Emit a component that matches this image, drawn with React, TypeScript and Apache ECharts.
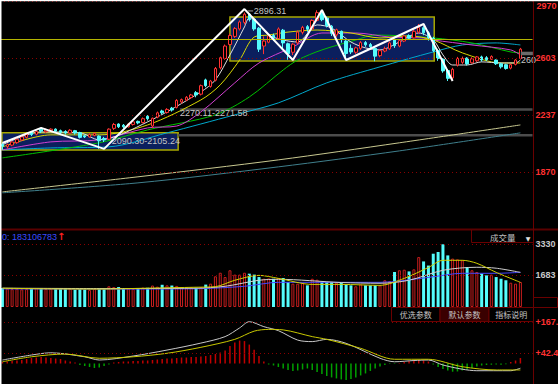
import React, { useEffect, useRef } from "react";
import * as echarts from "echarts";

const W = 558;
const H = 384;
const SLOT_COUNT = 110;
const CATEGORIES = Array.from({ length: SLOT_COUNT }, (_, i) => String(i + 1));

// [open, close, low, high]
const CANDLES: number[][] = [
  [2048, 2035, 2012, 2055], [2032, 2045, 2020, 2052], [2042, 2062, 2035, 2068], [2058, 2080, 2050, 2088],
  [2075, 2095, 2068, 2102], [2092, 2112, 2085, 2120], [2125, 2110, 2100, 2132], [2112, 2130, 2105, 2138],
  [2145, 2132, 2120, 2153], [2128, 2140, 2120, 2148], [2135, 2145, 2128, 2150], [2145, 2132, 2125, 2150],
  [2135, 2125, 2115, 2142], [2130, 2120, 2110, 2138], [2120, 2138, 2115, 2145], [2135, 2120, 2110, 2140],
  [2122, 2092, 2085, 2128], [2102, 2095, 2088, 2110], [2095, 2110, 2090, 2118], [2105, 2118, 2098, 2122],
  [2100, 2070, 2018, 2105], [2085, 2075, 2062, 2095], [2080, 2145, 2075, 2150], [2150, 2175, 2140, 2185],
  [2178, 2160, 2152, 2182], [2170, 2160, 2150, 2178], [2160, 2178, 2155, 2185], [2175, 2192, 2168, 2198],
  [2195, 2185, 2176, 2200], [2188, 2212, 2182, 2220], [2228, 2212, 2200, 2235], [2165, 2215, 2152, 2220],
  [2222, 2250, 2215, 2258], [2262, 2250, 2240, 2270], [2252, 2272, 2245, 2280], [2280, 2268, 2258, 2288],
  [2285, 2330, 2278, 2338], [2320, 2335, 2310, 2342], [2332, 2350, 2325, 2358], [2348, 2365, 2340, 2372],
  [2380, 2365, 2350, 2390], [2370, 2425, 2362, 2432], [2462, 2425, 2415, 2470], [2420, 2455, 2412, 2462],
  [2460, 2535, 2452, 2545], [2540, 2605, 2530, 2612], [2600, 2680, 2592, 2690], [2690, 2748, 2682, 2760],
  [2742, 2792, 2732, 2802], [2790, 2835, 2780, 2845], [2832, 2885, 2818, 2896.31], [2885, 2850, 2838, 2892],
  [2852, 2790, 2778, 2860], [2795, 2660, 2642, 2802], [2680, 2712, 2628, 2742], [2705, 2745, 2698, 2755],
  [2748, 2730, 2715, 2760], [2728, 2790, 2722, 2800], [2782, 2700, 2665, 2790], [2695, 2632, 2592, 2702],
  [2640, 2692, 2622, 2700], [2700, 2770, 2690, 2780], [2768, 2800, 2755, 2810], [2805, 2788, 2772, 2815],
  [2790, 2845, 2785, 2852], [2845, 2895, 2838, 2910], [2895, 2850, 2840, 2905], [2860, 2812, 2800, 2870],
  [2808, 2762, 2745, 2815], [2752, 2785, 2740, 2792], [2775, 2722, 2702, 2780], [2712, 2632, 2592, 2718],
  [2665, 2642, 2628, 2690], [2640, 2668, 2630, 2676], [2665, 2702, 2655, 2712], [2702, 2688, 2675, 2712],
  [2690, 2675, 2660, 2700], [2665, 2615, 2582, 2668], [2618, 2650, 2608, 2660], [2648, 2662, 2640, 2676],
  [2662, 2700, 2655, 2710], [2722, 2682, 2668, 2728], [2680, 2715, 2672, 2722], [2712, 2745, 2705, 2752],
  [2748, 2730, 2720, 2756], [2732, 2775, 2728, 2785], [2770, 2800, 2760, 2822], [2798, 2765, 2750, 2808],
  [2765, 2735, 2715, 2775], [2730, 2650, 2640, 2740], [2650, 2600, 2585, 2662], [2596, 2520, 2508, 2602],
  [2522, 2472, 2455, 2532], [2475, 2530, 2465, 2540], [2558, 2600, 2548, 2610], [2575, 2600, 2565, 2612],
  [2602, 2565, 2555, 2608], [2572, 2598, 2568, 2608], [2585, 2610, 2578, 2616], [2610, 2590, 2580, 2618],
  [2605, 2592, 2584, 2615], [2595, 2612, 2590, 2620], [2590, 2566, 2558, 2594], [2566, 2546, 2535, 2572],
  [2560, 2535, 2528, 2566], [2538, 2560, 2530, 2566], [2562, 2590, 2555, 2596], [2600, 2660, 2594, 2668],
];

// moving averages, read as [candle index, value]
const MA5 = [[0, 2044], [8, 2127], [16, 2121], [20, 2076], [30, 2192], [41, 2385], [44, 2462], [47, 2623], [50, 2803], [51, 2861], [53, 2816], [55, 2751], [58, 2719], [61, 2706], [65, 2816], [68, 2796], [72, 2706], [75, 2668], [78, 2655], [82, 2706], [86, 2764], [89, 2719], [91, 2623], [93, 2558], [96, 2558], [99, 2578], [103, 2571], [106, 2571], [107, 2590]];
const MA10 = [[0, 2031], [10, 2108], [20, 2108], [30, 2172], [41, 2333], [45, 2430], [49, 2590], [52, 2738], [55, 2751], [59, 2770], [65, 2783], [72, 2764], [78, 2732], [84, 2745], [89, 2719], [95, 2636], [103, 2571], [107, 2571]];
const MA20 = [[0, 2011], [10, 2063], [20, 2076], [30, 2153], [36, 2165], [41, 2256], [48, 2443], [53, 2571], [60, 2674], [66, 2764], [73, 2764], [80, 2738], [87, 2732], [89, 2719], [97, 2687], [105, 2655], [107, 2623]];
const MA30 = [[0, 1960], [20, 2057], [30, 2140], [44, 2237], [51, 2352], [58, 2526], [61, 2590], [66, 2655], [73, 2719], [77, 2751], [89, 2732], [97, 2700], [105, 2642], [107, 2636]];
const MA60 = [[0, 2011], [10, 2024], [22, 2031], [34, 2121], [48, 2237], [57, 2314], [67, 2443], [78, 2546], [89, 2642], [95, 2687], [102, 2700], [107, 2687]];
const MA120 = [[0, 1741], [28, 1838], [57, 1947], [82, 2057], [107, 2172]];
const MA250 = [[0, 1735], [28, 1799], [57, 1902], [82, 2005], [107, 2121]];

const ZIGZAG = [[0, 2056], [8, 2153], [21, 2018], [50, 2918], [60, 2590], [66, 2912], [71, 2590], [87, 2822], [93, 2455]];

const VOLUMES = [
  1010, 980, 950, 970, 940, 960, 1010, 1000, 990, 960,
  960, 1010, 1000, 1000, 960, 920, 950, 930, 900, 970,
  990, 950, 1100, 1060, 1060, 980, 990, 960, 990, 1030,
  1020, 1140, 1080, 1180, 1150, 1140, 1120, 1060, 1060, 1050,
  1020, 1060, 1190, 1240, 1630, 1820, 1590, 1950, 1720, 1720,
  1820, 1770, 1720, 1590, 1500, 1520, 1500, 1540, 1540, 1330,
  1240, 1240, 1290, 1150, 1500, 1450, 1330, 1330, 1330, 1290,
  1290, 1190, 1150, 1100, 1200, 1150, 1150, 1150, 1150, 1420,
  1370, 1860, 1950, 1980, 1890, 2000, 2650, 2420, 2200, 2830,
  2920, 3330, 2740, 2570, 2530, 2480, 2120, 1950, 1860, 1770,
  1680, 1720, 1590, 1500, 1420, 1290, 1240, 1330,
];
const VOL_MA_A = [[0, 1000], [10, 960], [20, 950], [30, 1000], [40, 1050], [44, 1080], [48, 1420], [53, 1680], [57, 1520], [64, 1200], [70, 1200], [78, 1150], [83, 1520], [88, 2100], [91, 2480], [95, 2480], [98, 2320], [102, 1840], [107, 1310]];
const VOL_MA_B = [[0, 1000], [20, 980], [40, 1000], [46, 1100], [53, 1420], [57, 1470], [70, 1300], [78, 1260], [84, 1420], [91, 1950], [98, 2110], [102, 2060], [107, 1840]];
const VOL_MA_C = [[0, 960], [20, 950], [40, 970], [50, 1100], [57, 1310], [78, 1310], [88, 1570], [95, 1790], [102, 1790], [107, 1840]];

const MACD_HIST = [
  6, 8, 10, 12, 14, 18, 22, 24, 26, 24,
  22, 20, 18, 12, 8, 4, -6, -10, -14, -18,
  -16, -10, -4, 4, 6, 8, 8, 10, 10, 12,
  12, 14, 16, 18, 20, 20, 22, 24, 24, 26,
  26, 28, 30, 34, 38, 44, 52, 70, 84, 92,
  90, 76, 55, 30, 8, -4, -8, -14, -20, -26,
  -30, -28, -24, -20, -26, -34, -42, -50, -56, -60,
  -64, -66, -62, -56, -48, -40, -30, -20, -12, -6,
  -2, -2, 2, 6, 10, 14, 14, 12, 8, -4,
  -14, -22, -28, -33, -32, -28, -24, -18, -12, -8,
  -6, -5, -4, -5, -3, 6, 12, 22,
];
const DIF = [[0, 14], [6, 34], [10, 43], [17, 27], [20, 14], [27, 30], [34, 54], [41, 82], [46, 108], [49, 143], [51, 168], [54, 148], [57, 132], [61, 94], [64, 88], [67, 97], [71, 81], [78, 21], [81, 7], [85, 12], [88, 14], [91, -6], [95, -23], [98, -29], [105, -29], [107, -19]];
const DEA = [[0, 7], [6, 27], [13, 38], [20, 21], [27, 27], [34, 41], [41, 65], [48, 97], [52, 130], [55, 137], [58, 135], [64, 108], [67, 97], [74, 61], [81, 17], [88, 17], [95, -13], [102, -26], [107, -26]];

const PRICE_MIN = 1502;
const PRICE_MAX = 2970;
const PRICE_TICKS = [2603, 2237, 1870];
const PRICE_TICK_LABELS = ["2603", "2237", "1870"];
const PRICE_TOP_LABEL = "2970";
const RESIST_LEVEL = 2724;
const VOL_MAX = 4089;
const VOL_TICKS = [3330, 1683];
const VOL_TICK_LABELS = ["3330", "1683"];
const MACD_MIN = -82.4;
const MACD_MAX = 223;
const MACD_TICKS = [167, 42.4];
const MACD_TICK_LABELS = ["+167.", "+42.4"];

// boxes: [startIndex, endIndex, low, high]
const BOXES = [[-0.1, 36.3, 2011, 2121], [47, 89.2, 2584, 2867]];
// range lines: [startIndex, level]
const RANGE_LINES = [[36.7, 2271], [36.3, 2105]];
// annotations: [text, index, value]
const ANNOTATIONS: [string, number, number][] = [
  ["2896.31", 51.9, 2906],
  ["2090.30-2105.24", 22.6, 2068],
  ["2270.11-2271.58", 36.7, 2249],
];
const LAST_PRICE_TEXT = "260";
const VOL_TITLE = "0: 183106783";

const NUM_FONT = '"Liberation Sans", Arial, sans-serif';
const CJK_FONT = '"Noto Sans CJK SC", sans-serif';

const RED = "#ff3232";
const CYAN = "#54fcfc";
const DARK_RED = "#6a0000";

function lineSeries(data: number[][], color: string, axis: number, z = 3, width = 1) {
  return {
    type: "line",
    xAxisIndex: axis,
    yAxisIndex: axis,
    data,
    symbol: "none",
    smooth: 0.3,
    silent: true,
    z,
    lineStyle: { color, width },
  };
}

function tickMarkLine(values: number[], labels: string[], color: string, extra: any[] = []) {
  return {
    symbol: ["none", "none"],
    silent: true,
    animation: false,
    lineStyle: { color: "#8a0000", type: [1, 3], width: 1 },
    label: {
      position: "end",
      color,
      fontSize: 9,
      fontWeight: "bold",
      fontFamily: NUM_FONT,
      distance: 3,
      formatter: "{b}",
    },
    data: values.map((v, i) => ({ yAxis: v, name: labels[i] })).concat(extra),
  };
}

function buildOption() {
  const gridW = 532.5;
  const hidden = { show: false };
  return {
    animation: false,
    backgroundColor: "#000000",
    grid: [
      { left: 0, top: 1, width: gridW, height: 228 },
      { left: 0, top: 230, width: gridW, height: 77 },
      { left: 0, top: 308, width: gridW, height: 76 },
    ],
    xAxis: [0, 1, 2].map((g) => ({ type: "category", gridIndex: g, data: CATEGORIES, boundaryGap: true, ...hidden })),
    yAxis: [
      { type: "value", gridIndex: 0, min: PRICE_MIN, max: PRICE_MAX, ...hidden },
      { type: "value", gridIndex: 1, min: 0, max: VOL_MAX, ...hidden },
      { type: "value", gridIndex: 2, min: MACD_MIN, max: MACD_MAX, ...hidden },
    ],
    series: [
      {
        type: "candlestick",
        xAxisIndex: 0,
        yAxisIndex: 0,
        data: CANDLES,
        barWidth: 3,
        z: 4,
        silent: true,
        itemStyle: { color: "#000000", color0: CYAN, borderColor: RED, borderColor0: CYAN, borderWidth: 1 },
        markLine: tickMarkLine(PRICE_TICKS, PRICE_TICK_LABELS, "#ff3030", [
          { yAxis: PRICE_MAX, name: "", label: { show: false } },
          { yAxis: RESIST_LEVEL, name: "", lineStyle: { color: "#b4b400", type: "solid", width: 1 }, label: { show: false } },
        ]),
      },
      lineSeries(MA120, "#c8c890", 0),
      lineSeries(MA250, "#3f7f8c", 0),
      lineSeries(MA60, "#00a8cc", 0),
      lineSeries(MA30, "#00c000", 0),
      lineSeries(MA20, "#d040d0", 0),
      lineSeries(MA10, "#d8d800", 0),
      lineSeries(MA5, "#e0e0e0", 0),
      { ...lineSeries(ZIGZAG, "#ffffff", 0, 6, 2), smooth: false },
      {
        type: "bar",
        xAxisIndex: 1,
        yAxisIndex: 1,
        barWidth: 3,
        silent: true,
        data: VOLUMES.map((v, i) => {
          const up = CANDLES[i][1] >= CANDLES[i][0];
          return {
            value: v,
            itemStyle: up
              ? { color: "#000000", borderColor: "#c81e1e", borderWidth: 1 }
              : { color: CYAN, borderColor: CYAN, borderWidth: 0 },
          };
        }),
        markLine: tickMarkLine(VOL_TICKS, VOL_TICK_LABELS, "#c8c8c8"),
      },
      lineSeries(VOL_MA_C, "#4646ff", 1),
      lineSeries(VOL_MA_B, "#d0d0d0", 1),
      lineSeries(VOL_MA_A, "#d0d000", 1),
      {
        type: "bar",
        xAxisIndex: 2,
        yAxisIndex: 2,
        barWidth: 1.5,
        silent: true,
        data: MACD_HIST.map((v) => ({ value: v, itemStyle: { color: v >= 0 ? "#c00000" : "#00a000" } })),
        markLine: tickMarkLine(MACD_TICKS, MACD_TICK_LABELS, "#ff3030"),
      },
      lineSeries(DIF, "#c8c8c8", 2),
      lineSeries(DEA, "#c8c800", 2),
    ],
  };
}

function txt(text: string, x: number, y: number, fill: string, font: string, align = "left", z = 30) {
  return {
    type: "text",
    x,
    y,
    z,
    silent: true,
    style: { text, fill, font, align, textAlign: align, verticalAlign: "middle", textVerticalAlign: "middle" },
  };
}

function rect(x: number, y: number, w: number, h: number, style: any, z = 0) {
  return { type: "rect", z, silent: true, shape: { x, y, width: w, height: h }, style };
}

function seg(x1: number, y1: number, x2: number, y2: number, stroke: string, lineWidth: number, z = 1) {
  return { type: "line", z, silent: true, shape: { x1, y1, x2, y2 }, style: { stroke, lineWidth } };
}

function buildGraphics(xOf: (i: number) => number, yOf: (v: number) => number, right: number) {
  const g: any[] = [];
  BOXES.forEach(([a, b, lo, hi]) => {
    g.push(rect(xOf(a), yOf(hi), xOf(b) - xOf(a), yOf(lo) - yOf(hi), { fill: "#0b1f5e", stroke: "#a8a800", lineWidth: 1.5 }, 0));
  });
  RANGE_LINES.forEach(([a, lvl]) => {
    g.push(seg(xOf(a), yOf(lvl), right, yOf(lvl), "#4c4c4c", 2.5, 1));
  });
  ANNOTATIONS.forEach(([t, i, v]) => {
    g.push(txt(t, xOf(i), yOf(v), "#c4c4c4", `9px ${NUM_FONT}`));
  });
  // short leader to the peak label
  g.push(seg(xOf(50.6), yOf(2906), xOf(51.8), yOf(2906), "#a0a0a0", 1, 30));
  // last price tag
  g.push(rect(xOf(CANDLES.length - 0.9), yOf(2592) - 8, 12, 3.5, { fill: "#6a6a6a" }, 30));
  g.push(txt(LAST_PRICE_TEXT, xOf(CANDLES.length - 0.9), yOf(2592), "#c4c4c4", `9px ${NUM_FONT}`));

  // top price label (kept inside the picture)
  g.push(txt(PRICE_TOP_LABEL, 536.5, 5.5, "#ff3030", `bold 9px ${NUM_FONT}`));

  // frame / separators
  g.push(rect(0, 0, W, 1.2, { fill: "#ffffff" }, 50));
  g.push(rect(0, 0, 1.5, H, { fill: "#ffffff" }, 50));
  g.push(seg(0, 229.5, W, 229.5, "#5a0000", 2, 40));
  g.push(seg(533.5, 0, 533.5, H, DARK_RED, 1, 40));

  // volume title
  g.push(txt(VOL_TITLE, 2, 236.5, "#3a4cff", `9px ${NUM_FONT}`));
  g.push(txt("↑", 57, 236.5, "#ff2020", `bold 10px "DejaVu Sans"`));

  // 成交量 selector
  g.push(seg(471.5, 230, 471.5, 242.5, DARK_RED, 1, 40));
  g.push(seg(471.5, 242.5, 533.5, 242.5, DARK_RED, 1, 40));
  g.push(txt("成交量", 490, 237, "#c0c0c0", `8.5px ${CJK_FONT}`));
  g.push(txt("▼", 528, 238, "#e0e0e0", `6px "DejaVu Sans"`, "center"));

  // X10 box
  g.push(rect(533.5, 297.5, 24, 10, { fill: "#000000", stroke: DARK_RED, lineWidth: 1 }, 40));
  g.push(txt("X10", 536, 303, "#c8c8c8", `9px ${NUM_FONT}`));

  // buttons
  const btns: [string, number, number, boolean][] = [
    ["优选参数", 391.5, 48.5, false],
    ["默认参数", 440, 49, true],
    ["指标说明", 489, 44.5, false],
  ];
  btns.forEach(([t, x, w, on]) => {
    g.push(rect(x, 307.5, w, 14, { fill: on ? "#3a0000" : "#000000", stroke: DARK_RED, lineWidth: 1 }, 40));
    g.push(txt(t, x + w / 2, 314.8, "#c4c4c4", `8px ${CJK_FONT}`, "center", 41));
  });
  return g;
}

export default function App() {
  const ref = useRef<HTMLDivElement>(null);
  useEffect(() => {
    const el = ref.current;
    if (!el) return;
    const chart = echarts.init(el, null, { renderer: "svg" });
    chart.setOption(buildOption() as any);
    const toPx = (i: number, v: number) => chart.convertToPixel({ seriesIndex: 0 }, [i, v]) as unknown as number[];
    const p0 = toPx(0, PRICE_MAX);
    const p1 = toPx(1, PRICE_MAX);
    const step = p1[0] - p0[0];
    const xOf = (i: number) => p0[0] + i * step;
    const yOf = (v: number) => toPx(0, v)[1];
    const right = xOf(SLOT_COUNT - 0.5);
    chart.setOption({ graphic: buildGraphics(xOf, yOf, right) } as any);
    return () => chart.dispose();
  }, []);
  return (
    <div
      ref={ref}
      style={{ position: "absolute", left: 0, top: 0, width: W, height: H, background: "#000000" }}
    />
  );
}
